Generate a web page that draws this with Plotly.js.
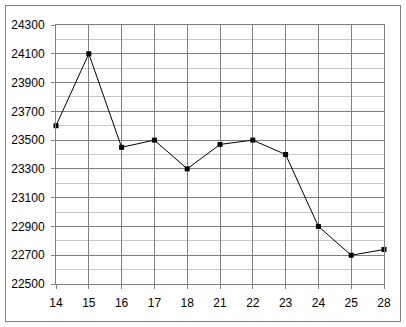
<!DOCTYPE html>
<html><head><meta charset="utf-8">
<script src="https://cdn.plot.ly/plotly-3.0.1.min.js"></script>
<style>
html,body{margin:0;padding:0;background:#fff;}
#wrap{position:relative;width:406px;height:327px;}
#chart{width:406px;height:327px;}
#frame{position:absolute;left:5px;top:5px;width:394px;height:315px;border:1px solid #808080;pointer-events:none;}
</style></head>
<body>
<div id="wrap"><div id="chart"></div><div id="frame"></div></div>
<script>
const days = ['14','15','16','17','18','21','22','23','24','25','28'];
const prices = [23600, 24100, 23450, 23500, 23300, 23470, 23500, 23400, 22900, 22700, 22740];

Plotly.newPlot('chart', [{
  x: days, y: prices, type: 'scatter', mode: 'lines+markers',
  line: {color: '#000', width: 1},
  marker: {color: '#000', size: 5, symbol: 'square'},
  cliponaxis: false
}], {
  width: 406, height: 327,
  margin: {l: 56, r: 22, t: 25, b: 43},
  paper_bgcolor: '#fff', plot_bgcolor: '#fff',
  showlegend: false,
  font: {family: 'Liberation Sans, Arial, sans-serif', size: 12, color: '#000'},
  xaxis: {
    type: 'category', range: [0, 10],
    showgrid: true, gridcolor: '#808080', gridwidth: 1,
    showline: true, linecolor: '#808080', linewidth: 1, mirror: true,
    ticks: 'outside', ticklen: 4, tickcolor: '#808080', ticklabelstandoff: 4,
    zeroline: false, fixedrange: true
  },
  yaxis: {
    range: [22500, 24300], tick0: 22500, dtick: 200,
    showgrid: true, gridcolor: '#808080', gridwidth: 1,
    minor: {dtick: 100, tick0: 22500, showgrid: true, gridcolor: '#c8c8c8', gridwidth: 1},
    showline: true, linecolor: '#808080', linewidth: 1, mirror: true,
    ticks: 'outside', ticklen: 4, tickcolor: '#808080', ticklabelstandoff: 4,
    zeroline: false, fixedrange: true, tickformat: 'd'
  }
}, {displayModeBar: false, staticPlot: true});
</script>
</body></html>
